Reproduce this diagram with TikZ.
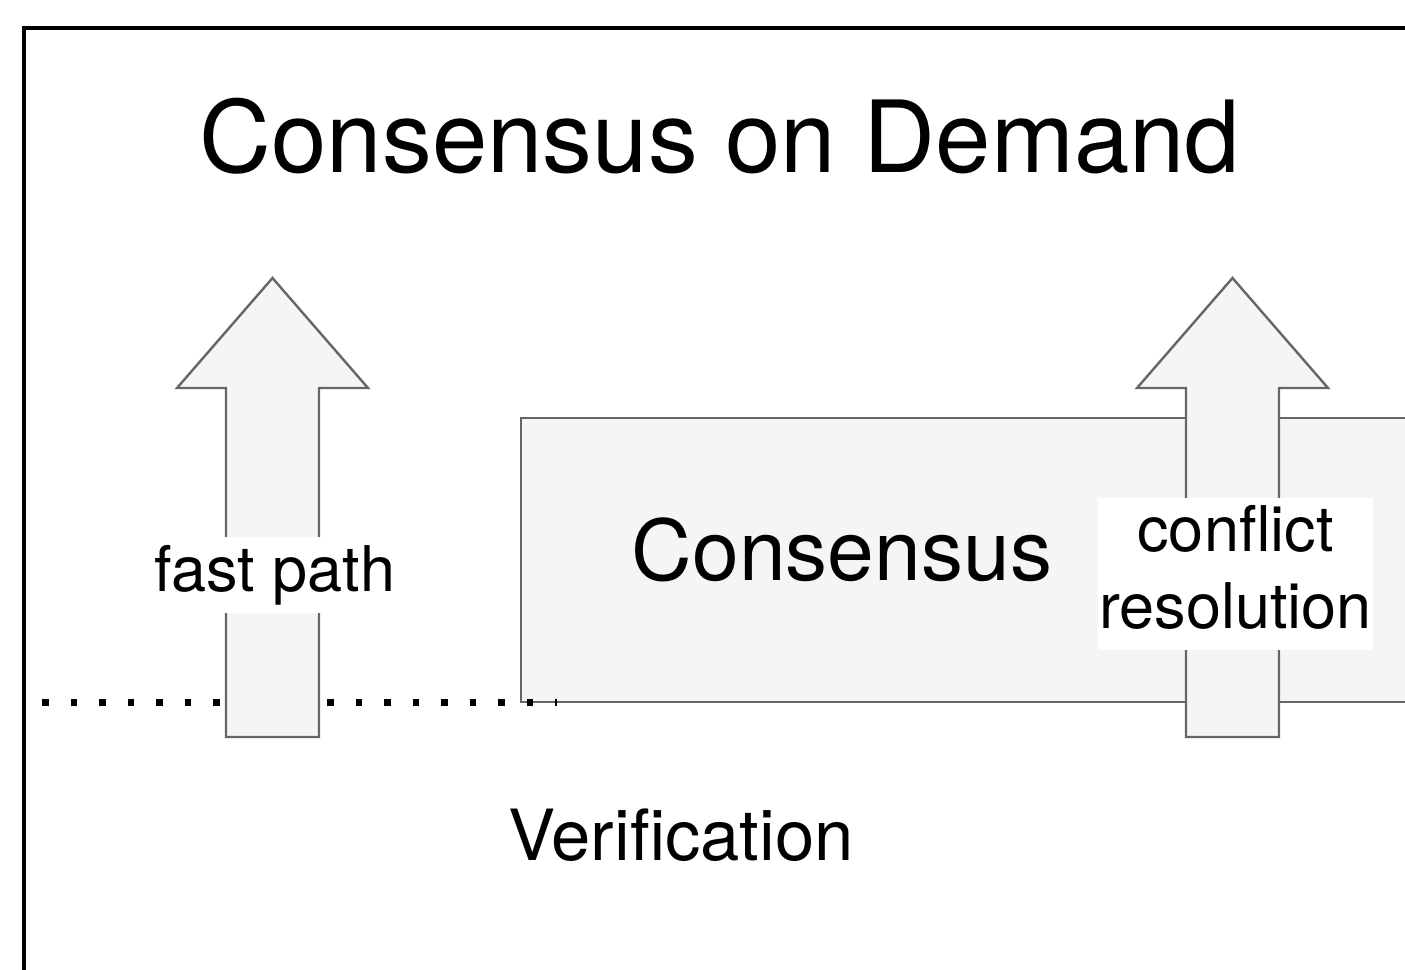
\documentclass[tikz,border=0pt]{standalone}
\usepackage{fontspec}
\setmainfont{TeX Gyre Heros}
\usepackage{tikz}
\usetikzlibrary{positioning}
\definecolor{boxgray}{HTML}{F5F5F5}
\definecolor{linegray}{HTML}{666666}
\newcommand{\titlefont}{\fontsize{49.8pt}{60pt}\selectfont}
\newcommand{\layerfont}{\fontsize{42pt}{50pt}\selectfont}
\newcommand{\pathfont}{\fontsize{31.5pt}{38.5pt}\selectfont}
\newcommand{\basefont}{\fontsize{35.3pt}{42pt}\selectfont}

\begin{document}
\begin{tikzpicture}[x=0.5pt, y=-0.5pt,
    block/.style={draw=linegray, fill=boxgray, line width=1.2pt},
    pathlbl/.style={fill=white, inner sep=0pt, font=\pathfont}]
    \useasboundingbox (0,0) rectangle (1405,970);
    \clip (0,0) rectangle (1405,970);
    % outer frame, runs off the page
    \draw[line width=1.6pt] (24,28) rectangle (1500,1100);
    \node[anchor=base] (title) at (720,172) {\titlefont Consensus on Demand};
    % consensus layer
    \draw[block] (521,418) rectangle (1500,702);
    \node[anchor=base] (cons) at (842,580) {\layerfont Consensus};
    % boundary to the verification layer
    \draw[line width=3.5pt, dash pattern=on 3.4pt off 10.85pt] (42,702) -- (557,702);
    % up arrows
    \foreach \cx in {272.5, 1232.5} {
        \draw[block] (\cx-46.5,737) -- (\cx-46.5,388) -- (\cx-95.5,388) -- (\cx,278)
            -- (\cx+95.5,388) -- (\cx+46.5,388) -- (\cx+46.5,737) -- cycle;
    }
    \node[pathlbl, minimum height=38pt] (fast) at (275,575) {fast path};
    \node[pathlbl, align=center, minimum width=137.5pt, minimum height=76pt]
        (resolve) at (1235.5,574) {conflict\\resolution\vphantom{p}};
    \node[anchor=base] (verif) at (681,860) {\basefont Verification};
\end{tikzpicture}
\end{document}
